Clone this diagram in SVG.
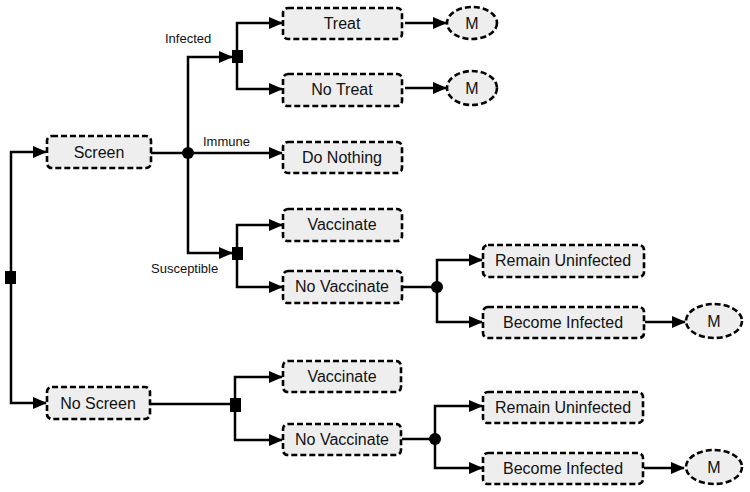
<svg xmlns="http://www.w3.org/2000/svg" width="750" height="492" viewBox="0 0 750 492">
<defs>
<marker id="arr" markerUnits="userSpaceOnUse" markerWidth="14" markerHeight="12" refX="13" refY="6" orient="auto"><path d="M0,0 L14,6 L0,12 z" fill="#000"/></marker>
</defs>
<style>
.box{fill:#eeeeee;stroke:#000;stroke-width:2.6;stroke-dasharray:6,3}
.t{font-family:"Liberation Sans",Arial,sans-serif;font-size:16px;fill:#111;text-anchor:middle}
.lb{font-family:"Liberation Sans",Arial,sans-serif;font-size:13px;fill:#111}
.ln{fill:none;stroke:#000;stroke-width:2.5}
.a{marker-end:url(#arr)}
</style>
<rect width="750" height="492" fill="#fff"/>
<g id="connectors">
<path class="ln a" d="M11,277 V152 H46"/>
<path class="ln a" d="M11,277 V403 H46"/>
<path class="ln" d="M151,153 H188"/>
<path class="ln a" d="M188,153 V57 H232"/>
<path class="ln a" d="M188,153 H282"/>
<path class="ln a" d="M188,153 V253 H232"/>
<path class="ln a" d="M237,57 V23 H282"/>
<path class="ln a" d="M237,57 V89 H282"/>
<path class="ln a" d="M405,23 H446"/>
<path class="ln a" d="M405,88 H446"/>
<path class="ln a" d="M237,253 V225 H282"/>
<path class="ln a" d="M237,253 V287 H282"/>
<path class="ln" d="M402,287 H437"/>
<path class="ln a" d="M437,287 V260 H482"/>
<path class="ln a" d="M437,287 V322 H482"/>
<path class="ln a" d="M645,322 H685"/>
<path class="ln" d="M150,404 H235"/>
<path class="ln a" d="M235,404 V377 H282"/>
<path class="ln a" d="M235,404 V440 H282"/>
<path class="ln" d="M402,439 H435"/>
<path class="ln a" d="M435,439 V406 H482"/>
<path class="ln a" d="M435,439 V468 H482"/>
<path class="ln a" d="M644,468 H684"/>
</g>
<g id="decision-root"><rect x="5" y="271" width="11" height="13" fill="#000"/></g>
<g id="chance-screen"><circle cx="188" cy="153" r="6" fill="#000"/></g>
<g id="decision-infected"><rect x="232" y="50" width="11" height="13" fill="#000"/></g>
<g id="decision-susceptible"><rect x="232" y="247" width="11" height="13" fill="#000"/></g>
<g id="chance-novacc1"><circle cx="437" cy="287" r="6" fill="#000"/></g>
<g id="decision-noscreen"><rect x="230" y="398" width="11" height="14" fill="#000"/></g>
<g id="chance-novacc2"><circle cx="435" cy="439" r="6" fill="#000"/></g>
<g id="labels">
<text class="lb" x="165" y="43">Infected</text>
<text class="lb" x="203" y="146">Immune</text>
<text class="lb" x="151" y="273">Susceptible</text>
</g>
<g id="screen"><rect class="box" x="47" y="136" width="104" height="32" rx="5"/><text class="t" x="99" y="158">Screen</text></g>
<g id="noscreen"><rect class="box" x="47" y="387" width="103" height="32" rx="5"/><text class="t" x="98" y="409">No Screen</text></g>
<g id="treat"><rect class="box" x="283" y="8" width="119" height="31" rx="5"/><text class="t" x="342" y="29">Treat</text></g>
<g id="notreat"><rect class="box" x="283" y="74" width="119" height="32" rx="5"/><text class="t" x="342" y="95">No Treat</text></g>
<g id="donothing"><rect class="box" x="283" y="142" width="119" height="31" rx="5"/><text class="t" x="342" y="163">Do Nothing</text></g>
<g id="vacc1"><rect class="box" x="283" y="209" width="119" height="32" rx="5"/><text class="t" x="342" y="230">Vaccinate</text></g>
<g id="novacc1"><rect class="box" x="283" y="271" width="119" height="32" rx="5"/><text class="t" x="342" y="292">No Vaccinate</text></g>
<g id="remain1"><rect class="box" x="483" y="245" width="161" height="32" rx="5"/><text class="t" x="563" y="266">Remain Uninfected</text></g>
<g id="become1"><rect class="box" x="483" y="307" width="161" height="31" rx="5"/><text class="t" x="563" y="328">Become Infected</text></g>
<g id="vacc2"><rect class="box" x="283" y="361" width="118" height="31" rx="5"/><text class="t" x="342" y="382">Vaccinate</text></g>
<g id="novacc2"><rect class="box" x="283" y="424" width="118" height="31" rx="5"/><text class="t" x="342" y="445">No Vaccinate</text></g>
<g id="remain2"><rect class="box" x="483" y="392" width="160" height="31" rx="5"/><text class="t" x="563" y="413">Remain Uninfected</text></g>
<g id="become2"><rect class="box" x="483" y="453" width="160" height="31" rx="5"/><text class="t" x="563" y="474">Become Infected</text></g>
<g id="m1"><ellipse class="box" cx="472" cy="23" rx="25" ry="16"/><text class="t" x="472" y="29">M</text></g>
<g id="m2"><ellipse class="box" cx="472" cy="88" rx="25" ry="17"/><text class="t" x="472" y="94">M</text></g>
<g id="m3"><ellipse class="box" cx="714" cy="321" rx="28" ry="17"/><text class="t" x="714" y="327">M</text></g>
<g id="m4"><ellipse class="box" cx="714" cy="467" rx="28" ry="17"/><text class="t" x="714" y="473">M</text></g>
</svg>
